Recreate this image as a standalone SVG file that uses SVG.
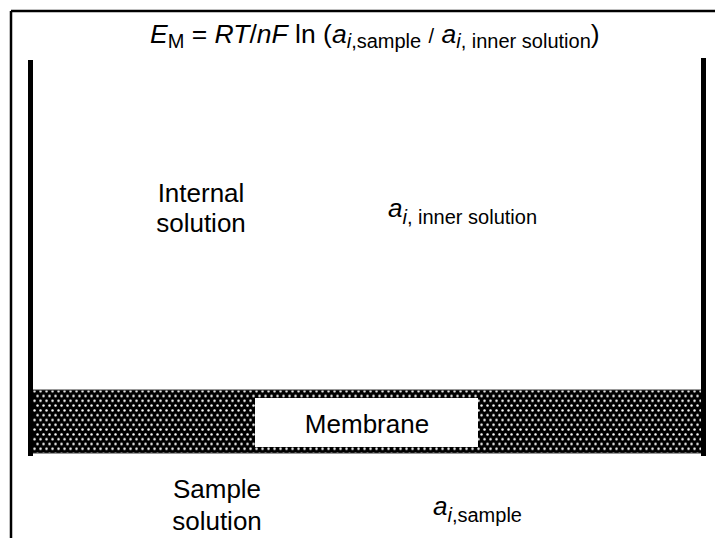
<svg xmlns="http://www.w3.org/2000/svg" width="715" height="538" viewBox="0 0 715 538">
<style>
text{font-family:"Liberation Sans",Arial,sans-serif;fill:#000}
.lbl{font-size:26px}
.eq{font-size:26.5px}
.sub{font-size:20px;font-style:normal}
.sl{font-size:20px}
.it{font-style:italic}
.wall{fill:#000}
</style>
<defs>
<pattern id="dots" x="0" y="0" width="6" height="9.6" patternUnits="userSpaceOnUse">
<rect width="6" height="9.6" fill="#000"/>
<circle cx="1.5" cy="2.4" r="1.25" fill="#fff"/>
<circle cx="4.5" cy="7.2" r="1.25" fill="#fff"/>
</pattern>
</defs>
<rect width="715" height="538" fill="#fff"/>
<g id="frame">
<line x1="11" y1="11" x2="715" y2="11" stroke="#000" stroke-width="2.5"/>
<line x1="11" y1="11" x2="11" y2="538" stroke="#000" stroke-width="2.5"/>
</g>
<g id="equation">
<text class="eq" x="150" y="43"><tspan class="it">E</tspan><tspan class="sub" dy="5">M</tspan><tspan dy="-5"> = </tspan><tspan class="it">RT</tspan>/<tspan class="it">nF</tspan> ln (<tspan class="it">a</tspan><tspan class="sub" dy="5"><tspan class="it">i</tspan>,sample</tspan><tspan dy="-5"> </tspan><tspan class="sl">/</tspan> <tspan class="it">a</tspan><tspan class="sub" dy="5"><tspan class="it">i</tspan>, inner solution</tspan><tspan dy="-5">)</tspan></text>
</g>
<g id="container">
<rect class="wall" x="28" y="60" width="5" height="396"/>
<rect class="wall" x="701" y="58" width="5" height="398"/>
</g>
<g id="membrane">
<rect x="33" y="390" width="668" height="63" fill="url(#dots)"/>
<line x1="33" y1="390" x2="701" y2="390" stroke="#333" stroke-width="1"/>
<line x1="33" y1="453" x2="701" y2="453" stroke="#333" stroke-width="1"/>
<rect x="255" y="398" width="223" height="49" fill="#fff"/>
<text class="lbl" x="367" y="433" text-anchor="middle">Membrane</text>
</g>
<g id="internal-solution">
<text class="lbl" x="201" y="202" text-anchor="middle">Internal</text>
<text class="lbl" x="201" y="232" text-anchor="middle">solution</text>
</g>
<g id="inner-activity">
<text class="lbl" x="388" y="217"><tspan class="it">a</tspan><tspan class="sub" dy="7"><tspan class="it">i</tspan>, inner solution</tspan></text>
</g>
<g id="sample-solution">
<text class="lbl" x="217" y="498" text-anchor="middle">Sample</text>
<text class="lbl" x="217" y="530" text-anchor="middle">solution</text>
</g>
<g id="sample-activity">
<text class="lbl" x="433" y="515"><tspan class="it">a</tspan><tspan class="sub" dy="7"><tspan class="it">i</tspan>,sample</tspan></text>
</g>
</svg>
